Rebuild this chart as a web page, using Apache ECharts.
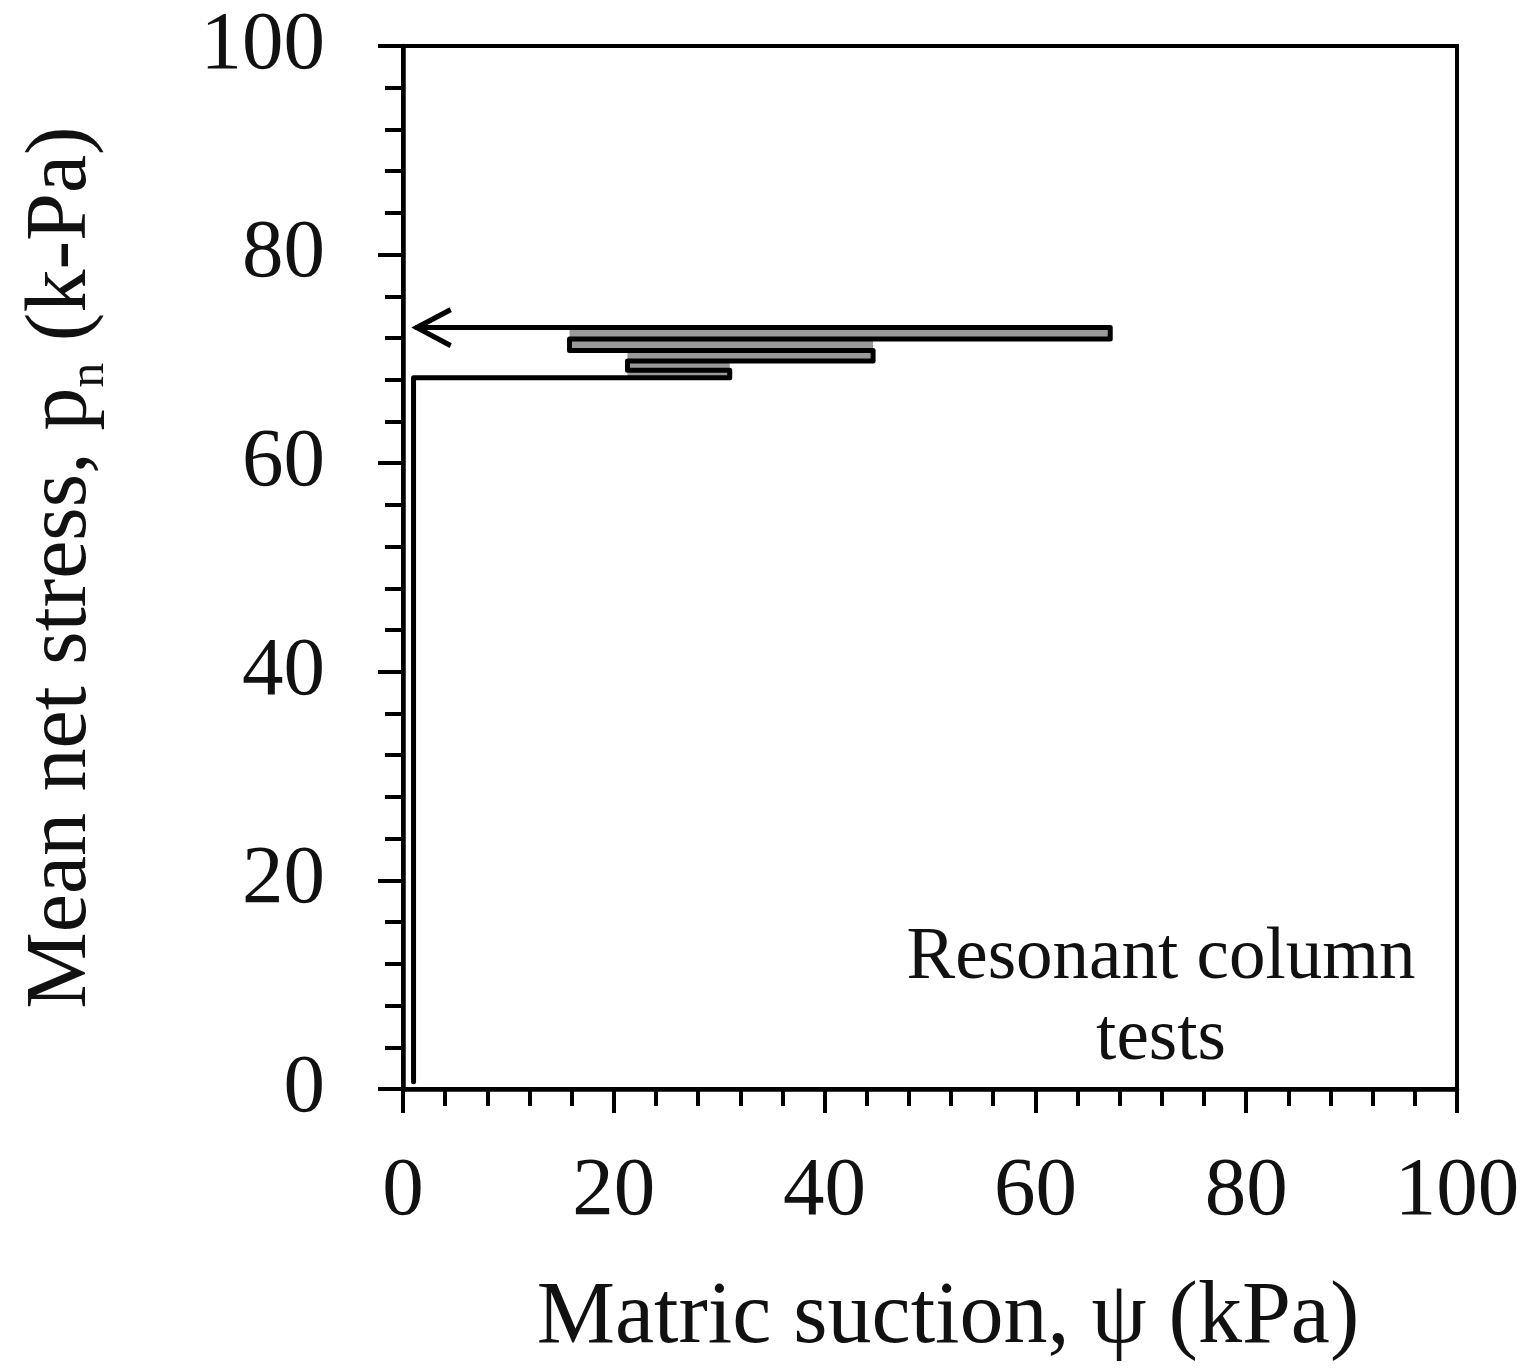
<!DOCTYPE html>
<html>
<head>
<meta charset="utf-8">
<script src="https://cdn.jsdelivr.net/npm/echarts@6/dist/echarts.min.js"></script>
<style>html,body{margin:0;padding:0;background:#fff}#c{width:1537px;height:1372px}</style>
</head>
<body>
<div id="c"></div>
<script>
// Stress path: matric suction (kPa) vs mean net stress (kPa)
const suction = [1.0, 1.0, 31.0, 31.0, 21.3, 21.3, 44.6, 44.6, 15.8, 15.8, 67.1, 67.1, 1.3];
const stress  = [0.7, 68.2, 68.2, 68.9, 68.9, 69.8, 69.8, 70.8, 70.8, 71.9, 71.9, 73.0, 73.0];
const xTicks = [0, 20, 40, 60, 80, 100];
const yTicks = [0, 20, 40, 60, 80, 100];
const noteText = 'Resonant column\ntests';

const FONT = "'Liberation Serif','Times New Roman',serif";

// horizontal segments (pairs of points at equal stress)
const segs = [];
for (let i = 1; i < suction.length; i++) {
  if (stress[i] === stress[i - 1] && suction[i] !== suction[i - 1]) {
    segs.push({ x0: suction[i - 1], x1: suction[i], y: stress[i] });
  }
}
// gray fill between consecutive horizontal segments over their common range
const areas = [];
for (let k = 1; k < segs.length; k++) {
  const a = segs[k - 1], b = segs[k];
  const lo = Math.max(Math.min(a.x0, a.x1), Math.min(b.x0, b.x1));
  const hi = Math.min(Math.max(a.x0, a.x1), Math.max(b.x0, b.x1));
  if (hi > lo) areas.push([{ coord: [lo, a.y] }, { coord: [hi, b.y] }]);
}

const data = suction.map((x, i) => [x, stress[i]]);
const last = data.length - 1;
data[last] = {
  value: data[last],
  symbol: 'path://M34,0 L0,18 L34,36',
  symbolSize: [34, 36],
  symbolOffset: [17, 0],
  itemStyle: { color: 'rgba(0,0,0,0)', borderColor: '#000', borderWidth: 5 }
};

const chart = echarts.init(document.getElementById('c'), null, { renderer: 'canvas' });
chart.setOption({
  backgroundColor: '#fff',
  animation: false,
  grid: { left: 403, top: 46, right: 80, bottom: 283, show: true, borderColor: '#000', borderWidth: 4, backgroundColor: 'transparent' },
  xAxis: {
    type: 'value', min: 0, max: 100, interval: 20,
    name: 'Matric suction, ψ (kPa)', nameLocation: 'middle', nameGap: 186,
    nameTextStyle: { fontFamily: FONT, fontSize: 88, color: '#111', padding: [0, 0, 0, 36] },
    axisLine: { lineStyle: { color: '#000', width: 4.5 } },
    axisTick: { inside: false, length: 24, lineStyle: { color: '#000', width: 4 } },
    minorTick: { show: true, splitNumber: 5, length: 17, lineStyle: { color: '#000', width: 4 } },
    splitLine: { show: false },
    axisLabel: { fontFamily: FONT, fontSize: 83, color: '#111', margin: 62,
      formatter: v => xTicks.includes(v) ? String(v) : '' }
  },
  yAxis: {
    type: 'value', min: 0, max: 100, interval: 20,
    name: '{a|Mean net stress, p}{s|n}{a| (k-Pa)}', nameLocation: 'middle', nameGap: 284, nameRotate: 90,
    nameTextStyle: { fontFamily: FONT, fontSize: 86, color: '#111',
      rich: {
        a: { fontFamily: FONT, fontSize: 86, color: '#111', lineHeight: 100, verticalAlign: 'top' },
        s: { fontFamily: FONT, fontSize: 50, color: '#111', lineHeight: 56, verticalAlign: 'top', padding: [46, 0, 0, 0] }
      } },
    axisLine: { lineStyle: { color: '#000', width: 4.5 } },
    axisTick: { inside: false, length: 25, lineStyle: { color: '#000', width: 4 } },
    minorTick: { show: true, splitNumber: 5, length: 18, lineStyle: { color: '#000', width: 4 } },
    splitLine: { show: false },
    axisLabel: { fontFamily: FONT, fontSize: 83, color: '#111', margin: 78,
      formatter: v => yTicks.includes(v) ? String(v) : '' }
  },
  graphic: [{
    type: 'text', x: 1161, y: 918,
    style: { text: noteText, fontFamily: FONT, fontSize: 73, fill: '#111', align: 'center', lineHeight: 81 },
  }],
  series: [{
    type: 'line',
    data: data,
    symbol: 'none',
    showSymbol: true,
    lineStyle: { color: '#000', width: 5, join: 'round', cap: 'round' },
    itemStyle: { color: '#000' },
    markArea: { silent: true, itemStyle: { color: '#9a9a9a', opacity: 1 }, data: areas },
    z: 5
  }]
});
</script>
</body>
</html>
